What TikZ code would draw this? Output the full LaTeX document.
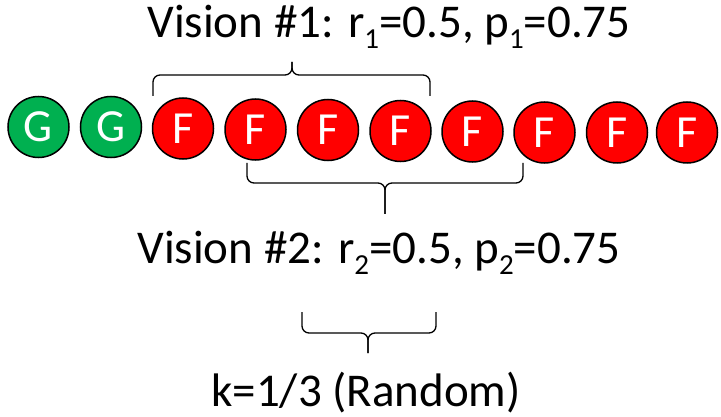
\documentclass[tikz,border=0pt]{standalone}
\usepackage{fontspec}
\setmainfont{Carlito}
\definecolor{ggreen}{RGB}{0,176,80}
\definecolor{fred}{RGB}{255,0,0}
\newcommand\subx[1]{\raisebox{-11pt}{\fontsize{29}{29}\selectfont #1}}
\begin{document}
\begin{tikzpicture}[x=1pt,y=-1pt,
  ball/.style={circle,draw=black,line width=1.5pt,minimum size=61pt,inner sep=0pt,
    text=white,font=\fontsize{46}{46}\selectfont},
  gball/.style={ball,fill=ggreen},
  fball/.style={ball,fill=fred},
  lbl/.style={anchor=base,inner sep=0pt,font=\fontsize{47}{47}\selectfont},
  brc/.style={draw=black,line width=1.3pt,rounded corners=7pt}]
\useasboundingbox (0,0) rectangle (721,417);
\node[gball] (c1) at (38.5,127) {G};
\node[gball] (c2) at (111,127) {G};
\node[fball] (c3) at (183,128.5) {F};
\node[fball] (c4) at (255.5,129.5) {F};
\node[fball] (c5) at (328,130) {F};
\node[fball] (c6) at (400.5,131) {F};
\node[fball] (c7) at (472.5,131.5) {F};
\node[fball] (c8) at (544.5,132.5) {F};
\node[fball] (c9) at (617,132.5) {F};
\node[fball] (c10) at (687,132.5) {F};
% brace 1
\coordinate (b1l) at (153,96);
\coordinate (b1r) at (430,96);
\coordinate (b1t) at (292,62);
\path[brc] (b1l) -- (153,75) -- (292,75) -- (b1t);
\path[brc] (b1t) -- (292,75) -- (430,75) -- (b1r);
% brace 2
\coordinate (b2l) at (247,163);
\coordinate (b2r) at (523,163);
\coordinate (b2t) at (385,214);
\path[brc] (b2l) -- (247,183) -- (385,183) -- (b2t);
\path[brc] (b2t) -- (385,183) -- (523,183) -- (b2r);
% brace 3
\coordinate (b3l) at (302,312);
\coordinate (b3r) at (436,312);
\coordinate (b3t) at (368,353);
\path[brc] (b3l) -- (302,333) -- (368,333) -- (b3t);
\path[brc] (b3t) -- (368,333) -- (436,333) -- (b3r);
\node[lbl] (t1) at (389,38) {Vision \#1: r\subx{1}=0.5, p\subx{1}=0.75};
\node[lbl] (t2) at (379,263) {Vision \#2: r\subx{2}=0.5, p\subx{2}=0.75};
\node[lbl] (t3) at (366,406) {k=1/3 (Random)};
\end{tikzpicture}
\end{document}
